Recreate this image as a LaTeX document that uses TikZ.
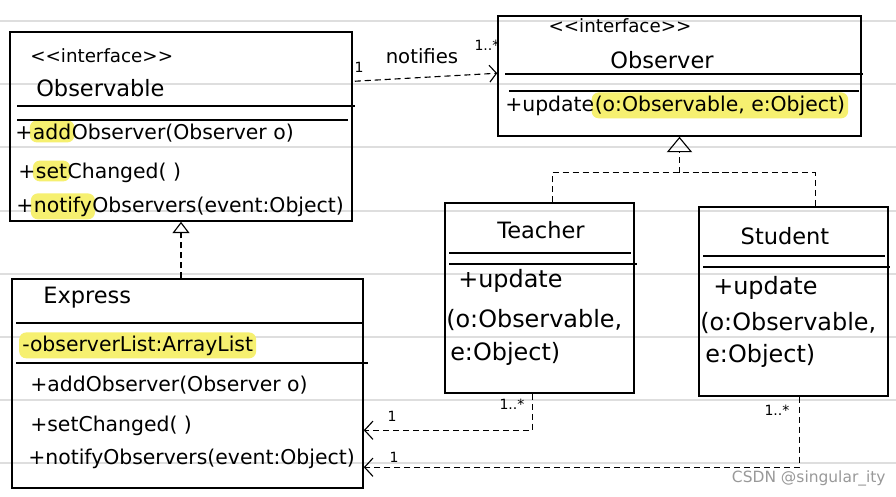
\documentclass[tikz,border=0pt]{standalone}
\usepackage{fontspec}
\setmainfont{DejaVu Sans}
\usetikzlibrary{arrows.meta,fit,calc,backgrounds}
\definecolor{marker}{RGB}{246,240,112}
\definecolor{ruleline}{RGB}{222,222,222}

\begin{document}
\begin{tikzpicture}[x=0.025cm, y=-0.025cm,
    box/.style={draw, line width=1.1pt, inner sep=0pt},
    sep/.style={line width=0.9pt},
    txt/.style={inner sep=0pt, anchor=base west, font=\fontsize{14.5}{16}\selectfont},
    bigtxt/.style={txt, font=\fontsize{17}{19}\selectfont},
    title/.style={inner sep=0pt, font=\fontsize{16}{18}\selectfont},
    stereo/.style={inner sep=0pt, font=\fontsize{13}{15}\selectfont},
    hlbox/.style={fill=marker, rounded corners=5pt, inner sep=2pt},
    dep/.style={dash pattern=on 4.3pt off 2.8pt, line width=0.8pt},
    mult/.style={inner sep=1pt, font=\fontsize{10}{11}\selectfont}]

\useasboundingbox (0,0) rectangle (896,496);
% ruled paper
\begin{scope}[on background layer]
  \fill[white] (0,0) rectangle (896,496);
  \foreach \y in {21,84,147,211,274,337,400,463}
    \draw[ruleline, line width=1.2pt] (0,\y) -- (896,\y);
\end{scope}

% Observable interface
\node[box, fit={(10,32) (352,221)}] (observable) {};
\draw[sep] (17,106) -- (355,106);
\draw[sep] (17,120) -- (348,120);
\node[stereo, anchor=west] (observableStereo) at (30,56) {{<}{<}interface{>}{>}};
\node[title, anchor=west] (observableName) at (36,88) {Observable};
\node[txt] (addPlus) at (15,139) {+};
\node[txt] (addMark) at (addPlus.base east) {add};
\node[txt] (addRest) at (addMark.base east) {Observer(Observer o)};
\node[txt] (setPlus) at (18,178) {+};
\node[txt] (setMark) at (setPlus.base east) {set};
\node[txt] (setRest) at (setMark.base east) {Changed( )};
\node[txt] (notifyPlus) at (16,212) {+};
\node[txt] (notifyMark) at (notifyPlus.base east) {notify};
\node[txt] (notifyRest) at (notifyMark.base east) {Observers(event:Object)};

% Observer interface
\node[box, fit={(498,16) (861,136)}] (observer) {};
\draw[sep] (505,74) -- (863,74);
\draw[sep] (509,91) -- (859,91);
\node[stereo] (observerStereo) at (620,26) {{<}{<}interface{>}{>}};
\node[title] (observerName) at (662,60) {Observer};
\node[txt] (updatePlus) at (505,111) {+update};
\node[txt] (updateArgs) at (updatePlus.base east) {(o:Observable, e:Object)};

% Express
\node[box, fit={(12,279) (363,488)}] (express) {};
\draw[sep] (16,323) -- (363,323);
\draw[sep] (16,363) -- (368,363);
\node[title, anchor=west] (expressName) at (43,298) {Express};
\node[txt] (expressField) at (22,351) {-observerList:ArrayList};
\node[txt] (expressAdd) at (30,391) {+addObserver(Observer o)};
\node[txt] (expressSet) at (30,431) {+setChanged( )};
\node[txt] (expressNotify) at (28,464) {+notifyObservers(event:Object)};

% Teacher
\node[box, fit={(445,203) (634,393)}] (teacher) {};
\draw[sep] (449,253) -- (631,253);
\draw[sep] (449,264) -- (637,264);
\node[title] (teacherName) at (541,230) {Teacher};
\node[bigtxt] (teacherUpdate) at (458,287) {+update};
\node[bigtxt] (teacherArgA) at (446,327) {(o:Observable,};
\node[bigtxt] (teacherArgB) at (450,360) {e:Object)};

% Student
\node[box, fit={(699,207) (888,396)}] (student) {};
\draw[sep] (703,256) -- (885,256);
\draw[sep] (703,267) -- (890,267);
\node[title] (studentName) at (785,236) {Student};
\node[bigtxt] (studentUpdate) at (713,294) {+update};
\node[bigtxt] (studentArgA) at (700,330) {(o:Observable,};
\node[bigtxt] (studentArgB) at (705,362) {e:Object)};

% highlighter marks
\begin{scope}[on background layer]
  \foreach \part in {addMark,setMark,notifyMark,updateArgs,expressField}
    \node[hlbox, fit=(\part)] {};
\end{scope}

% notifies
\draw[dep, -{Straight Barb[length=5pt, width=12pt]}] ($(observable.north east)+(2,50)$) -- ($(observer.north west)+(0,58)$);
\node[mult] (notifyOne) at (359,67) {1};
\node[font=\fontsize{14}{16}\selectfont] (notifyLabel) at (422,56) {notifies};
\node[mult] (notifyMany) at (487,45) {1..*};

% realizations
\draw[dep, -{Triangle[open, length=8pt, width=12pt]}] (express.north -| observable.south) -- (observable.south);
\coordinate (realizeSplit) at ($(observer.south)+(0,36)$);
\draw[dep] ($(teacher.north west)+(108,0)$) |- (realizeSplit) -| ($(student.north west)+(117,0)$);
\draw[dep, -{Triangle[open, length=11pt, width=18pt]}] (realizeSplit) -- (observer.south);

% back to Express
\draw[dep, -{Straight Barb[length=6pt, width=13pt]}] ($(teacher.south west)+(88,0)$) |- ($(express.north east)+(0,152)$);
\draw[dep, -{Straight Barb[length=6pt, width=13pt]}] ($(student.south west)+(101,0)$) |- ($(express.north east)+(0,189)$);
\node[mult] (teacherOne) at (392,416) {1};
\node[mult] (teacherMany) at (512,404) {1..*};
\node[mult] (studentOne) at (394,457) {1};
\node[mult] (studentMany) at (777,410) {1..*};

\node[font=\fontsize{11}{12}\selectfont, text=gray!80, anchor=west] (watermark) at (727,478) {CSDN @singular\_ity};
\end{tikzpicture}
\end{document}
